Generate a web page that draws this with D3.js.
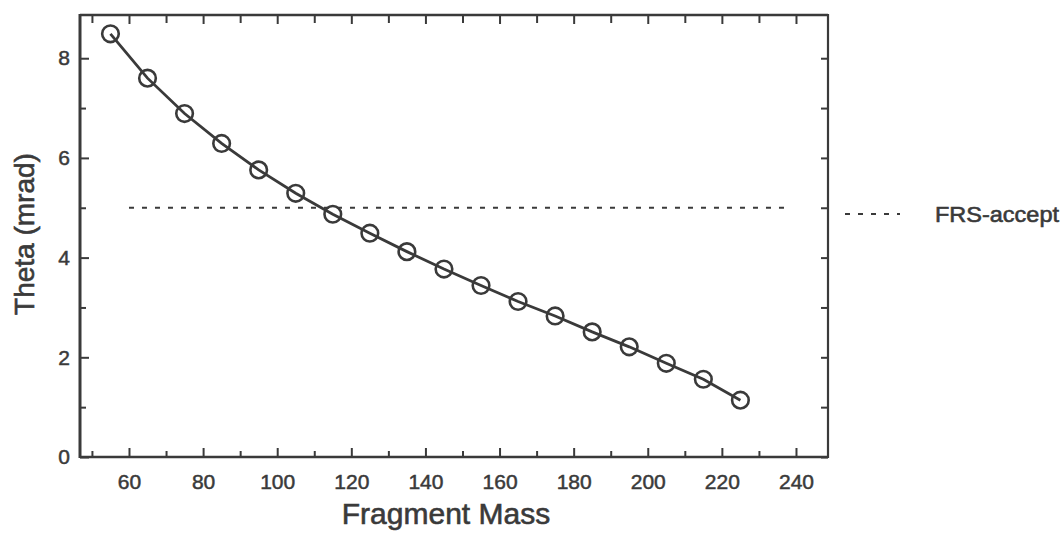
<!DOCTYPE html>
<html>
<head>
<meta charset="utf-8">
<script src="https://cdn.jsdelivr.net/npm/d3@7/dist/d3.min.js"></script>
<style>
  html, body { margin: 0; padding: 0; background: #fff; }
  svg { display: block; }
  text { font-family: "Liberation Sans", "DejaVu Sans", sans-serif; fill: #3a3a3a; }
</style>
</head>
<body>
<svg id="chart" width="1063" height="533"></svg>
<script>
// Emission angle of fragments versus fragment mass
const fragmentMass = [55, 65, 75, 85, 95, 105, 115, 125, 135, 145, 155, 165, 175, 185, 195, 205, 215, 225];
const thetaMrad = [8.49, 7.60, 6.89, 6.29, 5.76, 5.29, 4.87, 4.49, 4.12, 3.77, 3.44, 3.12, 2.83, 2.51, 2.21, 1.88, 1.56, 1.14];

// FRS angular acceptance limit
const acceptMass = [60, 238];
const acceptTheta = 5.0;

const xMajorTicks = [60, 80, 100, 120, 140, 160, 180, 200, 220, 240];
const xMinorTicks = [50, 70, 90, 110, 130, 150, 170, 190, 210, 230];
const yMajorTicks = [0, 2, 4, 6, 8];
const yMinorTicks = [1, 3, 5, 7];

const xTitle = "Fragment Mass";
const yTitle = "Theta (mrad)";
const legendLabel = "FRS-accept";

const ink = "#3a3a3a";
const svg = d3.select("#chart");

const plot = { left: 80, right: 828, top: 15, bottom: 457 };

const x = d3.scaleLinear().domain([46.78, 248.64]).range([plot.left, plot.right]);
const y = d3.scaleLinear().domain([0, 8.867]).range([plot.bottom, plot.top]);

// Axes: inward ticks on all four sides
function styleAxis(g) {
  g.select(".domain").remove();
  g.selectAll(".tick line").attr("stroke", ink).attr("stroke-width", 2);
}

svg.append("g")
  .attr("transform", `translate(0,${plot.bottom})`)
  .call(d3.axisBottom(x).tickValues(xMajorTicks).tickSizeInner(-9).tickSizeOuter(0).tickPadding(17).tickFormat(d3.format("d")))
  .call(styleAxis)
  .call(g => g.selectAll("text").attr("font-size", 21).attr("fill", ink).attr("stroke", ink).attr("stroke-width", 0.5));

svg.append("g")
  .attr("transform", `translate(0,${plot.bottom})`)
  .call(d3.axisBottom(x).tickValues(xMinorTicks).tickSizeInner(-6).tickSizeOuter(0).tickFormat(""))
  .call(styleAxis);

svg.append("g")
  .attr("transform", `translate(0,${plot.top})`)
  .call(d3.axisTop(x).tickValues(xMajorTicks).tickSizeInner(-9).tickSizeOuter(0).tickFormat(""))
  .call(styleAxis);

svg.append("g")
  .attr("transform", `translate(0,${plot.top})`)
  .call(d3.axisTop(x).tickValues(xMinorTicks).tickSizeInner(-8).tickSizeOuter(0).tickFormat(""))
  .call(styleAxis);

svg.append("g")
  .attr("transform", `translate(${plot.left},0)`)
  .call(d3.axisLeft(y).tickValues(yMajorTicks).tickSizeInner(-9).tickSizeOuter(0).tickPadding(10).tickFormat(d3.format("d")))
  .call(styleAxis)
  .call(g => g.selectAll("text").attr("font-size", 21).attr("fill", ink).attr("stroke", ink).attr("stroke-width", 0.5));

svg.append("g")
  .attr("transform", `translate(${plot.left},0)`)
  .call(d3.axisLeft(y).tickValues(yMinorTicks).tickSizeInner(-6).tickSizeOuter(0).tickFormat(""))
  .call(styleAxis);

svg.append("g")
  .attr("transform", `translate(${plot.right},0)`)
  .call(d3.axisRight(y).tickValues(yMajorTicks.concat(yMinorTicks)).tickSizeInner(-7).tickSizeOuter(0).tickFormat(""))
  .call(styleAxis);

// Frame
svg.append("line").attr("x1", plot.left).attr("x2", plot.left).attr("y1", plot.top - 1).attr("y2", plot.bottom + 1)
  .attr("stroke", ink).attr("stroke-width", 3);
svg.append("line").attr("x1", plot.left).attr("x2", plot.right).attr("y1", plot.bottom).attr("y2", plot.bottom)
  .attr("stroke", ink).attr("stroke-width", 2.5);
svg.append("line").attr("x1", plot.left).attr("x2", plot.right).attr("y1", plot.top).attr("y2", plot.top)
  .attr("stroke", ink).attr("stroke-width", 2.5);
svg.append("line").attr("x1", plot.right).attr("x2", plot.right).attr("y1", plot.top - 1).attr("y2", plot.bottom + 1)
  .attr("stroke", ink).attr("stroke-width", 2.2);

// Acceptance limit (dashed)
svg.append("line")
  .attr("x1", x(acceptMass[0])).attr("x2", x(acceptMass[1]))
  .attr("y1", y(acceptTheta)).attr("y2", y(acceptTheta))
  .attr("stroke", ink).attr("stroke-width", 2).attr("stroke-dasharray", "5,8");

// Theta curve with markers
const pts = fragmentMass.map((m, i) => [m, thetaMrad[i]]);
svg.append("path")
  .datum(pts)
  .attr("fill", "none").attr("stroke", ink).attr("stroke-width", 2.8)
  .attr("d", d3.line().x(d => x(d[0])).y(d => y(d[1])));

svg.append("g").selectAll("circle")
  .data(pts).join("circle")
  .attr("cx", d => x(d[0])).attr("cy", d => y(d[1])).attr("r", 8.3)
  .attr("fill", "none").attr("stroke", ink).attr("stroke-width", 2.6);

// Axis titles
svg.append("text")
  .attr("x", (plot.left + plot.right) / 2 - 8).attr("y", 524)
  .attr("text-anchor", "middle").attr("font-size", 30)
  .attr("stroke", ink).attr("stroke-width", 0.6)
  .text(xTitle);

svg.append("text")
  .attr("transform", `translate(34,234) rotate(-90)`)
  .attr("text-anchor", "middle").attr("font-size", 28)
  .attr("stroke", ink).attr("stroke-width", 0.6)
  .text(yTitle);

// Legend
const legY = 214;
svg.append("line")
  .attr("x1", 845).attr("x2", 900).attr("y1", legY).attr("y2", legY)
  .attr("stroke", ink).attr("stroke-width", 2).attr("stroke-dasharray", "5,8");
svg.append("text")
  .attr("x", 935).attr("y", legY + 8)
  .attr("font-size", 22).attr("stroke", ink).attr("stroke-width", 0.6)
  .attr("textLength", 124).attr("lengthAdjust", "spacingAndGlyphs")
  .text(legendLabel);
</script>
</body>
</html>
